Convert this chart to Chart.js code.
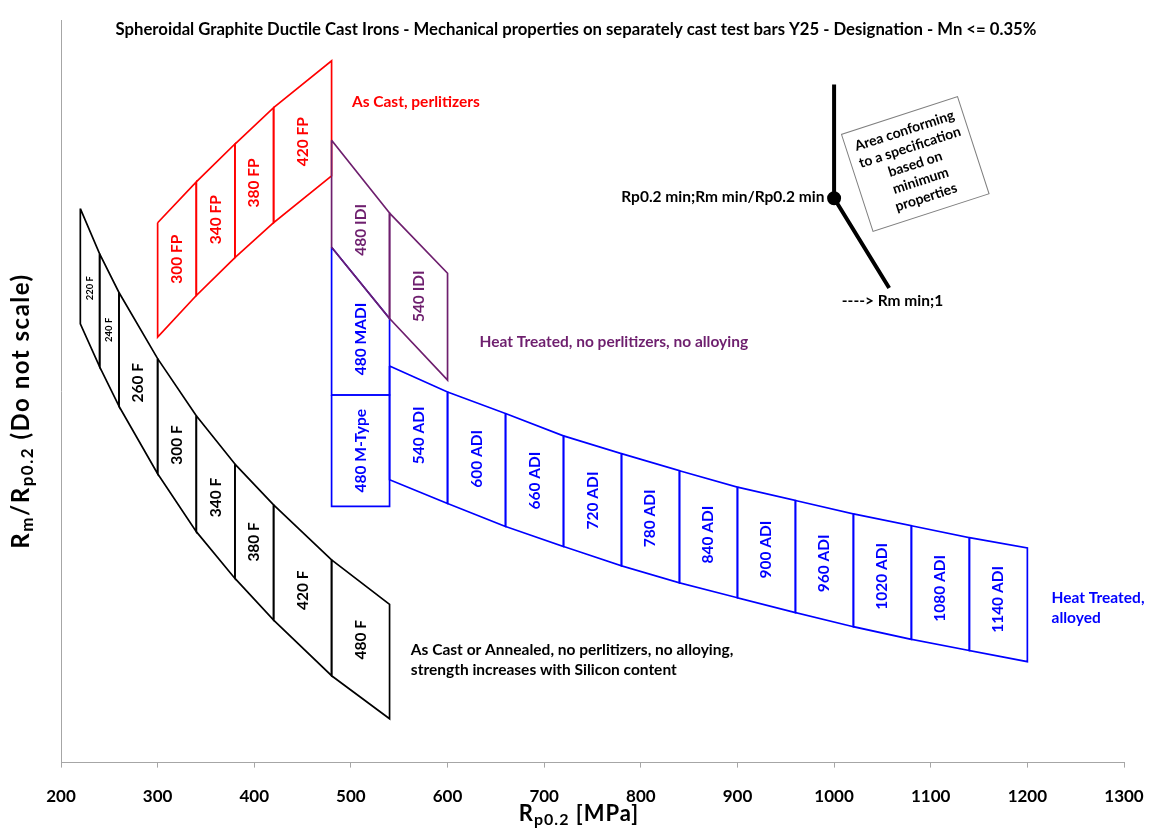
<!DOCTYPE html>
<html>
<head>
<meta charset="utf-8">
<script src="https://cdn.jsdelivr.net/npm/chart.js@4/dist/chart.umd.min.js"></script>
<style>
  html, body { margin: 0; padding: 0; background: #fff; }
  canvas { display: block; }
</style>
</head>
<body>
<canvas id="grafico" width="1150" height="830"></canvas>
<script>
// Rp0.2 limits of each cell, and Rm/Rp0.2 of the upper / lower edge (axis not to scale, 0..100)
const ferritRp = [220, 240, 260, 300, 340, 380, 420, 480, 540];
const ferritTop = [74.6, 68.5, 63.3, 54.4, 46.7, 40.2, 34.7, 27.3, 21.3];
const ferritBottom = [59.1, 53.3, 48.0, 38.9, 31.1, 24.8, 19.2, 11.7, 5.9];
const ferritGrades = ['220 F', '240 F', '260 F', '300 F', '340 F', '380 F', '420 F', '480 F'];

const perlitRp = [300, 340, 380, 420, 480];
const perlitTop = [72.7, 78.2, 83.3, 88.2, 94.5];
const perlitBottom = [57.3, 62.9, 68.0, 72.7, 79.0];
const perlitGrades = ['300 FP', '340 FP', '380 FP', '420 FP'];

const idiRp = [480, 540, 600];
const idiTop = [83.8, 74.0, 65.9];
const idiBottom = [69.4, 59.8, 51.5];
const idiGrades = ['480 IDI', '540 IDI'];

const madiRp = [480, 540];
const madiTop = [69.4, 59.8];
const madiBottom = [49.5, 49.5];
const mtypeTop = [49.5, 49.5];
const mtypeBottom = [34.5, 34.5];

const adiRp = [540, 600, 660, 720, 780, 840, 900, 960, 1020, 1080, 1140, 1200];
const adiTop = [53.4, 49.9, 47.0, 44.0, 41.6, 39.3, 37.1, 35.3, 33.5, 31.9, 30.3, 28.9];
const adiBottom = [38.1, 34.9, 31.8, 29.1, 26.5, 24.2, 22.2, 20.2, 18.3, 16.6, 15.1, 13.6];
const adiGrades = ['540 ADI', '600 ADI', '660 ADI', '720 ADI', '780 ADI', '840 ADI',
  '900 ADI', '960 ADI', '1020 ADI', '1080 ADI', '1140 ADI'];

// legend sketch: Rp0.2 min / Rm min
const markerRp = [1000, 1000, 1057];
const markerRatio = [91.3, 76.0, 63.9];

const xTicks = [200, 300, 400, 500, 600, 700, 800, 900, 1000, 1100, 1200, 1300];

const FONT = 'Lato, "Open Sans", sans-serif';
const PRETO = '#000000';
const VERMELHO = '#ff0000';
const ROXO = '#6e1f6e';
const AZUL = '#0000ff';

function celulas(rp, top, bottom, grades, cor, ordem, tam) {
  return grades.map((g, i) => ({
    grade: g,
    gradeSize: tam ? tam[i] : 15.5,
    data: [
      { x: rp[i], y: top[i] },
      { x: rp[i + 1], y: top[i + 1] },
      { x: rp[i + 1], y: bottom[i + 1] },
      { x: rp[i], y: bottom[i] },
      { x: rp[i], y: top[i] }
    ],
    borderColor: cor,
    borderWidth: 1.7,
    order: ordem
  }));
}

const datasets = [
  ...celulas(ferritRp, ferritTop, ferritBottom, ferritGrades, PRETO, 2, [9.5, 9.5, 15.5, 15.5, 15.5, 15.5, 15.5, 15.5]),
  ...celulas(perlitRp, perlitTop, perlitBottom, perlitGrades, VERMELHO, 2),
  ...celulas(idiRp, idiTop, idiBottom, idiGrades, ROXO, 1),
  ...celulas(madiRp, madiTop, madiBottom, ['480 MADI'], AZUL, 3),
  ...celulas(madiRp, mtypeTop, mtypeBottom, ['480 M-Type'], AZUL, 3),
  ...celulas(adiRp, adiTop, adiBottom, adiGrades, AZUL, 3),
  {
    data: markerRp.map((x, i) => ({ x, y: markerRatio[i] })),
    borderColor: PRETO,
    borderWidth: 4,
    pointRadius: [0, 5, 0],
    pointBackgroundColor: PRETO,
    pointBorderColor: PRETO,
    order: 0
  }
];

// free text placed in data units
const notas = [
  { txt: ['As Cast, perlitizers'], x: 501, y: 89.0, cor: VERMELHO, align: 'left' },
  { txt: ['Heat Treated, no perlitizers, no alloying'], x: 633, y: 56.7, cor: ROXO, align: 'left' },
  { txt: ['Heat Treated,', 'alloyed'], x: 1225, y: 22.2, cor: AZUL, align: 'left' },
  { txt: ['As Cast or Annealed, no perlitizers, no alloying,', 'strength increases with Silicon content'], x: 562, y: 15.2, cor: PRETO, align: 'left' },
  { txt: ['Rp0.2 min;Rm min/Rp0.2 min'], x: 990, y: 76.2, cor: PRETO, align: 'right' },
  { txt: ['----> Rm min;1'], x: 1008, y: 62.2, cor: PRETO, align: 'left' }
];

function textoRico(ctx, partes, x, y, tam, align, esp) {
  ctx.letterSpacing = esp || '0px';
  const medir = p => {
    ctx.font = `bold ${p.sub ? Math.round(tam * 0.72) : tam}px ${FONT}`;
    return ctx.measureText(p.t).width;
  };
  const total = partes.reduce((s, p) => s + medir(p), 0);
  let cx = align === 'center' ? x - total / 2 : x;
  partes.forEach(p => {
    const w = medir(p);
    ctx.fillText(p.t, cx, p.sub ? y + tam * 0.28 : y);
    cx += w;
  });
  ctx.letterSpacing = '0px';
}

const textos = {
  id: 'textos',
  afterDatasetsDraw(chart) {
    const { ctx, scales: { x, y } } = chart;
    ctx.save();

    // grade labels in each cell
    chart.data.datasets.forEach(ds => {
      if (!ds.grade) return;
      const p = ds.data.slice(0, 4);
      const cx = x.getPixelForValue((p[0].x + p[1].x) / 2);
      const cy = y.getPixelForValue(p.reduce((s, q) => s + q.y, 0) / 4);
      ctx.save();
      ctx.translate(cx, cy);
      ctx.rotate(-Math.PI / 2);
      ctx.font = `bold ${ds.gradeSize}px ${FONT}`;
      ctx.fillStyle = ds.borderColor;
      ctx.textAlign = 'center';
      ctx.textBaseline = 'middle';
      ctx.fillText(ds.grade, 0, 0);
      ctx.restore();
    });

    // notes
    ctx.textBaseline = 'middle';
    notas.forEach(n => {
      ctx.font = `bold 15.5px ${FONT}`;
      ctx.fillStyle = n.cor;
      ctx.textAlign = n.align;
      n.txt.forEach((linha, i) => {
        ctx.fillText(linha, x.getPixelForValue(n.x), y.getPixelForValue(n.y) + i * 20);
      });
    });

    // rotated box
    const bx = x.getPixelForValue(1084);
    const by = y.getPixelForValue(80.6);
    ctx.save();
    ctx.translate(bx, by);
    ctx.rotate(-18 * Math.PI / 180);
    ctx.strokeStyle = '#7f7f7f';
    ctx.lineWidth = 1;
    ctx.strokeRect(-61, -51, 122, 102);
    ctx.fillStyle = PRETO;
    ctx.font = `bold 14px ${FONT}`;
    ctx.textAlign = 'center';
    ['Area conforming', 'to a specification', 'based on', 'minimum', 'properties']
      .forEach((l, i) => ctx.fillText(l, 0, -35 + i * 17.5));
    ctx.restore();

    // title
    ctx.fillStyle = PRETO;
    ctx.textAlign = 'center';
    ctx.font = `bold 16.7px ${FONT}`;
    ctx.fillText('Spheroidal Graphite Ductile Cast Irons - Mechanical properties on separately cast test bars Y25 - Designation - Mn <= 0.35%', 576, 30);

    // axis titles
    ctx.textAlign = 'left';
    textoRico(ctx, [{ t: 'R' }, { t: 'p0.2', sub: true }, { t: ' [MPa]' }], 579, 814, 22, 'center', '1px');
    ctx.save();
    ctx.translate(21, 411);
    ctx.rotate(-Math.PI / 2);
    textoRico(ctx, [{ t: 'R' }, { t: 'm', sub: true }, { t: '/R' }, { t: 'p0.2', sub: true }, { t: ' (Do not scale)' }], 0, 0, 24, 'center', '1.5px');
    ctx.restore();

    ctx.restore();
  }
};

new Chart(document.getElementById('grafico'), {
  type: 'scatter',
  data: { datasets },
  options: {
    responsive: false,
    animation: false,
    showLine: true,
    elements: {
      line: { tension: 0, fill: false },
      point: { radius: 0, hoverRadius: 0 }
    },
    layout: { padding: { left: 61, right: 26, top: 20, bottom: 4 } },
    plugins: { legend: { display: false }, tooltip: { enabled: false } },
    scales: {
      x: {
        type: 'linear',
        min: 200,
        max: 1300,
        afterBuildTicks: axis => { axis.ticks = xTicks.map(v => ({ value: v })); },
        afterFit: axis => { axis.paddingLeft = 0; axis.paddingRight = 0; },
        ticks: {
          color: PRETO,
          font: { family: FONT, size: 17, weight: 'bold' },
          padding: 19,
          callback: v => String(v)
        },
        grid: { drawOnChartArea: false, drawTicks: true, tickLength: 5, color: '#a6a6a6' },
        border: { color: '#a6a6a6', width: 1 }
      },
      y: {
        type: 'linear',
        min: 0,
        max: 100,
        ticks: { display: false },
        grid: { drawOnChartArea: false, drawTicks: false },
        border: { color: '#a6a6a6', width: 1 }
      }
    }
  },
  plugins: [textos]
});
</script>
</body>
</html>
